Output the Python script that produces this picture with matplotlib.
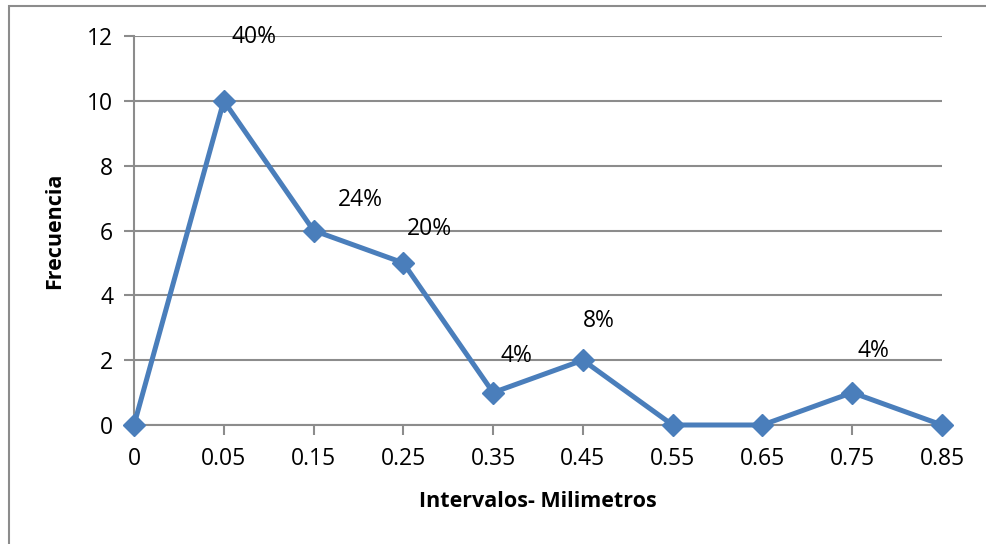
import matplotlib
matplotlib.use("Agg")
import matplotlib.pyplot as plt
from matplotlib.patches import Rectangle

categories = ["0", "0.05", "0.15", "0.25", "0.35", "0.45", "0.55", "0.65", "0.75", "0.85"]
frecuencia = [0, 10, 6, 5, 1, 2, 0, 0, 1, 0]
pct_labels = ["", "40%", "24%", "20%", "4%", "8%", "", "", "4%", ""]
# label offsets in pixels relative to each point (dx, dy)
label_offsets = [(0, 0), (30, 64), (47, 30), (26, 34), (23, 37), (16, 39), (0, 0), (0, 0), (21, 42), (0, 0)]

plt.rcParams['font.family'] = ['Open Sans', 'DejaVu Sans']

W, H = 987, 544
fig = plt.figure(figsize=(W / 100, H / 100), dpi=100)
left, right = 134 / W, 942 / W
bottom, top = (H - 425) / H, (H - 36) / H
ax = fig.add_axes([left, bottom, right - left, top - bottom])

# figure frame
fig.patches.append(Rectangle((9 / W, -0.05), 1.5, (H - 6) / H + 0.05, transform=fig.transFigure,
                             fill=False, edgecolor="#8c8c8c", linewidth=1.5, clip_on=False))

xs = list(range(len(categories)))
color = "#4a7ebb"
ax.plot(xs, frecuencia, color=color, linewidth=3.6, marker="D", markersize=11.5,
        markerfacecolor=color, markeredgecolor=color, zorder=5, clip_on=False)

for x, y, lab, (dx, dy) in zip(xs, frecuencia, pct_labels, label_offsets):
    if lab:
        ax.annotate(lab, (x, y), xytext=(dx, dy), textcoords="offset pixels",
                    ha="center", va="center", fontsize=16.5, color="black", zorder=6)

ax.set_xlim(0, len(categories) - 1)
ax.set_ylim(0, 12)
ax.set_yticks(range(0, 13, 2))
ax.set_xticks(xs)
ax.set_xticklabels(categories)
ax.tick_params(axis="both", labelsize=16.5, colors="#8c8c8c", labelcolor="black", width=1.5)
ax.tick_params(axis="y", length=7, pad=8)
ax.tick_params(axis="x", length=7, pad=9)

ax.grid(axis="y", color="#8c8c8c", linewidth=1.5)
ax.set_axisbelow(True)
for s in ["top", "right"]:
    ax.spines[s].set_visible(False)
for s in ["left", "bottom"]:
    ax.spines[s].set_color("#8c8c8c")
    ax.spines[s].set_linewidth(1.5)

ax.set_ylabel("Frecuencia", fontsize=15.5, fontweight="bold", labelpad=16)
ax.set_xlabel("Intervalos- Milimetros", fontsize=15.5, fontweight="bold", labelpad=14)

fig.savefig("out.png", dpi=100)
